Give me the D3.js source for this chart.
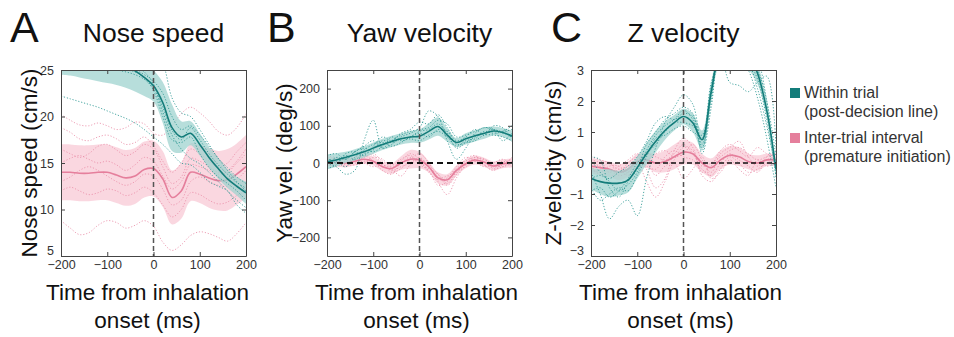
<!DOCTYPE html>
<html>
<head>
<meta charset="utf-8">
<script src="https://cdn.jsdelivr.net/npm/d3@7"></script>
<style>
  body { margin: 0; background: #fff; }
  svg { font-family: "Liberation Sans", Arial, sans-serif; }
</style>
</head>
<body>
<div id="fig"></div>
<script>
// time axis (ms), shared by all traces
var times = [-200,-180,-160,-140,-120,-100,-80,-60,-40,-20,0,20,40,60,80,100,120,140,160,180,200];

// ---- A: nose speed (cm/s)
var noseWithinMean = [27.5,27.3,27.0,26.7,26.4,26.1,25.8,25.4,24.9,24.2,23.3,21.5,18.8,17.8,18.2,17.0,15.6,14.4,13.3,12.5,11.8];
var noseWithinSem  = [3.0,2.9,2.8,2.7,2.6,2.5,2.4,2.3,2.2,2.0,1.7,2.2,2.5,1.7,1.3,1.2,1.1,1.1,1.0,1.0,1.2];
var noseItiMean    = [14.0,14.0,13.9,13.9,14.0,14.0,13.7,13.4,13.6,14.3,14.4,13.3,11.3,12.0,14.0,13.8,13.4,13.1,13.2,13.8,14.6];
var noseItiSem     = [3.0,3.0,3.0,3.0,3.0,3.0,3.0,3.0,3.0,3.0,3.0,3.0,2.9,3.0,3.1,3.1,3.2,3.2,3.3,3.3,3.4];
var noseWithinAnimals = [
  [22.2,21.9,21.6,21.3,21.0,20.6,20.2,19.8,19.3,18.6,17.8,17.0,16.0,15.0,14.8,14.0,13.0,12.5,12.0,10.5,9.6],
  [27.0,27.0,27.0,27.0,27.0,27.0,27.0,27.0,27.0,27.0,26.5,25.6,22.0,20.4,20.0,18.6,17.0,15.5,14.5,13.5,12.8],
  [26.5,26.2,25.8,25.6,25.3,25.1,25.0,24.8,24.5,24.0,23.0,21.0,18.5,17.5,18.8,17.5,16.0,14.8,13.8,12.9,12.3],
  [28.0,27.6,27.2,26.9,26.6,26.3,26.0,25.8,25.5,24.8,23.5,20.5,18.0,16.5,15.5,14.9,14.0,13.0,12.0,11.0,10.2],
  [27.0,26.8,26.5,26.2,26.0,25.8,25.6,25.3,25.0,24.5,23.8,22.5,20.0,18.6,19.0,18.0,16.8,15.5,14.2,13.0,12.0],
  [26.0,25.8,25.6,25.4,25.3,25.2,25.1,25.0,24.8,24.2,22.8,20.0,17.5,17.2,17.8,16.0,14.5,13.5,12.8,12.0,11.0]
];
var noseItiAnimals = [
  [20.2,19.6,19.1,19.0,19.3,19.0,18.6,18.8,19.4,19.2,18.2,18.0,19.0,20.3,21.0,20.4,19.5,18.4,18.0,18.8,20.3],
  [8.8,8.0,7.3,7.5,8.3,8.8,8.6,8.0,8.3,8.8,8.2,6.5,5.6,6.2,7.2,7.6,7.4,7.0,6.6,7.4,8.6],
  [18.8,18.3,17.6,17.4,17.8,18.0,17.6,17.0,17.2,17.8,16.8,15.2,14.0,15.0,16.5,16.0,15.2,14.6,15.0,16.2,17.2],
  [12.0,12.4,12.0,11.6,11.8,12.2,12.0,11.5,11.8,12.4,11.8,10.5,9.2,10.0,11.8,11.6,11.0,10.6,10.8,11.5,12.0],
  [15.0,15.5,15.8,15.4,15.0,15.2,14.8,14.2,14.8,15.6,15.2,13.6,12.2,13.0,14.8,14.6,14.2,13.8,14.0,15.0,16.0],
  [13.0,13.5,14.2,14.6,14.2,13.6,13.0,12.6,13.0,13.8,13.6,12.2,10.5,11.0,13.0,13.5,13.0,12.6,12.5,13.2,14.2],
  [16.5,16.0,15.6,16.0,16.8,17.0,16.4,15.8,16.2,17.0,16.5,14.6,12.8,13.5,15.5,15.2,14.6,14.0,14.2,15.2,16.5]
];

// ---- B: yaw velocity (deg/s)
var yawWithinMean = [3,8,15,22,30,40,50,58,65,70,72,85,98,75,55,65,73,80,86,82,72];
var yawWithinSem  = [20,18,15,15,15,15,15,15,15,16,18,22,25,18,12,15,15,15,12,12,15];
var yawItiMean    = [5,3,0,5,10,5,-10,-15,0,10,8,-10,-40,-45,-20,-2,8,2,-8,-2,0];
var yawItiSem     = [12,12,12,12,12,12,12,14,18,25,22,15,15,15,14,12,12,12,12,12,12];
var yawWithinAnimals = [
  [0,-10,-30,-20,60,115,40,50,70,80,95,140,125,60,10,40,80,95,90,60,80],
  [15,0,25,30,20,45,70,60,80,90,110,105,130,95,60,70,90,75,100,95,65],
  [-5,15,10,30,40,30,45,70,60,65,60,75,85,70,45,60,65,85,80,85,100],
  [10,5,-10,15,35,50,55,45,55,70,80,70,90,85,50,55,60,75,75,70,60],
  [20,25,10,30,45,60,40,60,75,85,90,95,115,105,70,75,85,95,90,85,90],
  [-15,-5,20,10,25,35,60,55,65,70,85,90,105,80,40,55,70,80,90,80,75]
];
var yawItiAnimals = [
  [20,15,10,15,25,20,0,-25,-15,10,25,0,-50,-85,-40,-5,15,5,-15,-10,5],
  [-10,0,-5,-5,0,15,10,-15,-35,-5,10,-5,-30,-60,-30,10,20,-5,-20,0,10],
  [5,10,15,0,5,0,-5,-10,5,25,10,-25,-45,-40,-10,15,5,-10,0,10,-5],
  [0,5,-10,10,20,5,-20,-30,0,15,-5,-20,-60,-50,-15,0,10,10,-5,-10,0],
  [10,0,5,10,0,-10,-5,-20,-10,0,15,-10,-40,-35,-20,5,15,10,-10,-5,15],
  [-5,-10,0,5,15,25,5,-5,10,20,0,-15,-30,-55,-25,-10,5,-5,-10,5,-10]
];

// ---- C: Z velocity (cm/s)
var zWithinMean = [-0.5,-0.6,-0.65,-0.65,-0.55,-0.15,0.3,0.7,1.05,1.3,1.5,1.3,0.75,2.3,3.6,3.8,3.7,3.5,2.9,1.7,-0.2];
var zWithinSem  = [0.35,0.4,0.45,0.4,0.4,0.35,0.35,0.35,0.3,0.25,0.25,0.3,0.3,0.3,0.4,0.6,0.6,0.5,0.35,0.25,0.2];
var zItiMean    = [-0.1,-0.15,-0.2,-0.3,-0.2,0.05,0.1,0.0,0.05,0.2,0.35,0.3,0.0,-0.15,0.1,0.25,0.2,0.05,0.0,0.1,0.1];
var zItiSem     = [0.25,0.25,0.25,0.25,0.25,0.25,0.25,0.3,0.35,0.4,0.4,0.35,0.3,0.3,0.3,0.3,0.3,0.25,0.25,0.2,0.2];
var zWithinAnimals = [
  [-0.3,-1.0,-1.8,-1.4,-1.2,-1.7,-0.5,0.5,1.3,1.8,2.2,1.9,0.6,2.5,3.5,2.6,2.5,2.3,2.6,2.8,0.5],
  [0.2,0.1,-0.8,-1.1,-0.6,-0.2,0.6,1.0,1.4,1.6,1.8,1.6,0.3,1.8,3.8,4.0,3.9,3.6,3.3,2.0,-0.5],
  [-0.8,-1.2,-1.0,-0.8,-0.9,-0.4,0.2,0.8,0.9,1.1,1.2,1.0,0.9,2.6,3.3,3.4,3.3,3.2,2.4,1.2,-0.2],
  [-0.5,-0.4,-0.5,-0.3,-0.1,0.2,0.7,1.3,1.5,1.4,1.6,1.5,0.5,2.0,3.5,3.6,3.4,3.0,2.1,0.8,-0.8],
  [0.1,-0.3,-0.6,-0.9,-0.7,-0.3,0.4,0.9,1.2,1.4,1.7,1.4,0.4,2.2,3.6,3.8,3.6,3.3,2.7,1.4,-0.4],
  [-0.9,-0.8,-1.1,-0.9,-0.5,0.0,0.3,0.6,1.0,1.3,1.3,1.2,0.8,2.4,3.4,3.5,3.5,3.4,3.0,2.0,0.2]
];
var zItiAnimals = [
  [0.1,0.0,-0.3,-0.1,0.1,0.3,-0.2,-0.8,-0.5,0.4,0.8,0.5,-0.3,-0.1,0.4,0.6,0.4,0.2,0.5,0.3,0.2],
  [-0.3,-0.2,0.0,-0.4,-0.3,0.0,-0.6,-1.1,-0.6,0.1,0.5,0.4,-0.4,-0.6,-0.2,0.2,0.0,-0.3,-0.2,0.0,0.1],
  [0.0,-0.1,-0.2,-0.3,0.0,0.2,0.1,0.3,0.4,0.2,0.3,0.6,0.1,-0.3,0.3,0.5,0.7,0.2,-0.1,0.2,0.4],
  [-0.1,-0.4,-0.5,-0.2,-0.4,-0.1,0.0,-0.4,-0.1,0.0,-0.5,-0.2,0.2,-0.5,-0.3,0.1,-0.2,-0.4,0.1,-0.1,0.0],
  [0.2,0.1,0.0,-0.2,-0.1,0.1,0.3,0.2,0.1,0.3,0.6,0.3,-0.1,0.0,0.2,0.4,0.5,0.3,0.1,0.2,0.3],
  [-0.2,-0.3,-0.1,-0.1,-0.3,0.1,-0.1,-0.2,0.2,0.4,0.2,0.1,-0.2,-0.4,0.0,0.3,0.1,-0.1,-0.3,0.1,0.2]
];

var xTicks = [-200,-100,0,100,200];
var legendLabels = [["Within trial", "(post-decision line)"], ["Inter-trial interval", "(premature initiation)"]];

var teal = {line: "#137c7a", band: "#9fd3cf", dots: "#2a9692"};
var pink = {line: "#e57f9c", band: "#f8c9d6", dots: "#ea8fa9"};

var panels = [
  {letter: "A", title: "Nose speed", ylabel: "Nose speed (cm/s)", x0: 61, lx: 10, yl: 24, xl: -6, domain: [5, 25], yTicks: [5,10,15,20,25],
   within: [noseWithinMean, noseWithinSem, noseWithinAnimals], iti: [noseItiMean, noseItiSem, noseItiAnimals], zero: false},
  {letter: "B", title: "Yaw velocity", ylabel: "Yaw vel. (deg/s)", x0: 327, lx: 267, yl: 35, xl: -3, domain: [-250, 250], yTicks: [-200,-100,0,100,200],
   within: [yawWithinMean, yawWithinSem, yawWithinAnimals], iti: [yawItiMean, yawItiSem, yawItiAnimals], zero: true},
  {letter: "C", title: "Z velocity", ylabel: "Z-velocity (cm/s)", x0: 591, lx: 551, yl: 30, xl: -3, domain: [-3, 3], yTicks: [-3,-2,-1,0,1,2,3],
   within: [zWithinMean, zWithinSem, zWithinAnimals], iti: [zItiMean, zItiSem, zItiAnimals], zero: true}
];

var W = 954, H = 337;
var pw = 185, ph = 186, py = 70;

var svg = d3.select("#fig").append("svg")
    .attr("width", W)
    .attr("height", H);

panels.forEach(function(p, k) {
    var x = d3.scaleLinear().domain([-200, 200]).range([p.x0, p.x0 + pw]);
    var y = d3.scaleLinear().domain(p.domain).range([py + ph, py]);
    var g = svg.append("g");

    svg.append("clipPath").attr("id", "clip" + k)
      .append("rect").attr("x", p.x0).attr("y", py).attr("width", pw).attr("height", ph);

    var plot = g.append("g").attr("clip-path", "url(#clip" + k + ")");

    var line = d3.line()
        .x(function(d, i) { return x(times[i]); })
        .y(function(d) { return y(d); })
        .curve(d3.curveCatmullRom.alpha(0.5));

    function drawGroup(grp, col, dash) {
        var mean = grp[0], sem = grp[1];
        var area = d3.area()
            .x(function(d, i) { return x(times[i]); })
            .y0(function(d, i) { return y(d - sem[i]); })
            .y1(function(d, i) { return y(d + sem[i]); })
            .curve(d3.curveCatmullRom.alpha(0.5));
        plot.append("path").datum(mean)
            .attr("d", area)
            .attr("fill", col.band)
            .attr("fill-opacity", 0.75);
        grp[2].forEach(function(tr) {
            plot.append("path").datum(tr)
                .attr("d", line)
                .attr("fill", "none")
                .attr("stroke", col.dots)
                .attr("stroke-width", 1)
                .attr("stroke-dasharray", dash)
                .attr("opacity", 0.85);
        });
        plot.append("path").datum(mean)
            .attr("d", line)
            .attr("fill", "none")
            .attr("stroke", col.line)
            .attr("stroke-width", 1.6);
    }

    drawGroup(p.iti, pink, "1.2,1.8");
    drawGroup(p.within, teal, "1.2,1.8");

    // reference lines
    plot.append("line")
        .attr("x1", x(0)).attr("x2", x(0))
        .attr("y1", py).attr("y2", py + ph)
        .attr("stroke", "#555").attr("stroke-width", 1.5)
        .attr("stroke-dasharray", "5,3");
    if (p.zero) {
        plot.append("line")
            .attr("x1", p.x0).attr("x2", p.x0 + pw)
            .attr("y1", y(0)).attr("y2", y(0))
            .attr("stroke", "#111").attr("stroke-width", k == 1 ? 2 : 1.3)
            .attr("stroke-dasharray", k == 1 ? "6,4" : "5,3");
    }

    // axes, matlab-like box with inward ticks
    var axCol = "#444";
    var ax = [
      d3.axisBottom(x).tickValues(xTicks).tickSizeInner(-4).tickSizeOuter(0).tickPadding(4),
      d3.axisTop(x).tickValues(xTicks).tickSizeInner(-4).tickSizeOuter(0).tickFormat(""),
      d3.axisLeft(y).tickValues(p.yTicks).tickSizeInner(-4).tickSizeOuter(0).tickPadding(7).tickFormat(d3.format("d")),
      d3.axisRight(y).tickValues(p.yTicks).tickSizeInner(-4).tickSizeOuter(0).tickFormat("")
    ];
    var pos = ["translate(0," + (py + ph) + ")", "translate(0," + py + ")",
               "translate(" + p.x0 + ",0)", "translate(" + (p.x0 + pw) + ",0)"];
    ax.forEach(function(a, i) {
        var ag = g.append("g").attr("transform", pos[i]).call(a);
        ag.select(".domain").attr("stroke", axCol);
        ag.selectAll(".tick line").attr("stroke", axCol);
        ag.selectAll(".tick text").attr("fill", "#333").attr("font-size", 12.5);
    });
    // lowest y label sits a touch higher, as in the original
    g.selectAll(".tick text").filter(function(d) { return d === p.domain[0]; }).attr("dy", "-0.1em");

    // texts
    var cx = p.x0 + pw / 2;
    svg.append("text").attr("x", p.lx).attr("y", 42)
        .attr("font-size", 43).attr("fill", "#111").text(p.letter);
    svg.append("text").attr("x", cx).attr("y", 42)
        .attr("text-anchor", "middle").attr("font-size", 26.5).attr("fill", "#111").text(p.title);
    svg.append("text")
        .attr("transform", "translate(" + (p.x0 - p.yl) + "," + (py + ph / 2) + ") rotate(-90)")
        .attr("text-anchor", "middle").attr("font-size", 22.5).attr("fill", "#111").text(p.ylabel);
    svg.append("text").attr("x", cx + p.xl).attr("y", 300)
        .attr("text-anchor", "middle").attr("font-size", 22.5).attr("fill", "#111").text("Time from inhalation");
    svg.append("text").attr("x", cx + p.xl).attr("y", 328)
        .attr("text-anchor", "middle").attr("font-size", 22.5).attr("fill", "#111").text("onset (ms)");
});

// legend
var leg = svg.append("g");
[teal, pink].forEach(function(col, i) {
    var y0 = 88 + i * 45;
    leg.append("rect").attr("x", 790).attr("y", y0).attr("width", 10).attr("height", 10)
        .attr("fill", col.line);
    leg.append("text").attr("x", 804).attr("y", y0 + 10)
        .attr("font-size", 16).attr("fill", "#333").text(legendLabels[i][0]);
    leg.append("text").attr("x", 804).attr("y", y0 + 29)
        .attr("font-size", 16).attr("fill", "#333").text(legendLabels[i][1]);
});
</script>
</body>
</html>
